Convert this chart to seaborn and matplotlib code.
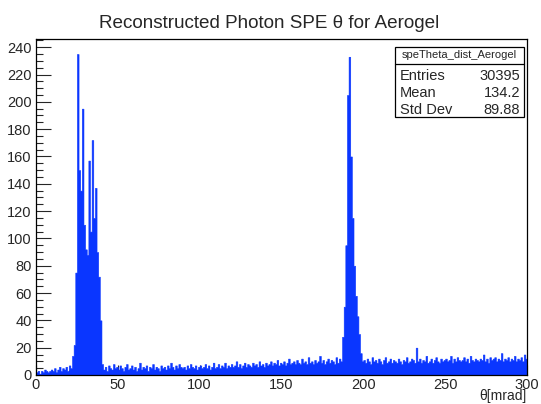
import numpy as np
import pandas as pd
import matplotlib
matplotlib.use("Agg")
import matplotlib.pyplot as plt
from matplotlib.patches import Rectangle
from matplotlib.ticker import MultipleLocator
import seaborn as sns

# 1 mrad bins from 0 to 300 (bin i covers [i, i+1))
bin_edges = list(range(0, 301))
counts = [
    2, 3, 1, 3, 2, 4, 3, 2, 3, 4,
    3, 5, 2, 4, 6, 3, 5, 4, 6, 3,
    7, 5, 14, 22, 75, 235, 150, 135, 195, 110,
    92, 88, 157, 105, 172, 115, 137, 90, 72, 40,
    8, 4, 6, 3, 7, 5, 4, 8, 5, 6,
    4, 7, 5, 3, 6, 8, 4, 5, 7, 4,
    6, 3, 5, 9, 4, 6, 5, 7, 3, 6,
    5, 8, 4, 6, 5, 3, 7, 5, 6, 4,
    7, 5, 9, 6, 4, 7, 5, 8, 6, 5,
    6, 4, 7, 5, 8, 6, 5, 7, 4, 6,
    7, 5, 6, 8, 5, 7, 4, 6, 9, 5,
    6, 8, 5, 7, 6, 9, 5, 7, 6, 8,
    6, 7, 10, 6, 8, 5, 7, 9, 6, 8,
    7, 6, 9, 7, 8, 6, 10, 7, 8, 6,
    9, 7, 8, 10, 7, 9, 8, 11, 7, 9,
    8, 10, 7, 9, 12, 8, 9, 10, 8, 11,
    9, 8, 12, 9, 10, 8, 13, 9, 10, 8,
    11, 9, 10, 14, 9, 11, 8, 10, 12, 9,
    11, 10, 8, 13, 9, 12, 10, 28, 50, 95,
    205, 233, 160, 115, 80, 58, 43, 30, 16, 10,
    11, 9, 12, 10, 8, 13, 10, 11, 9, 12,
    10, 8, 11, 13, 9, 10, 12, 9, 11, 10,
    9, 12, 10, 8, 11, 10, 13, 9, 10, 12,
    11, 9, 20, 10, 12, 9, 11, 10, 14, 9,
    10, 12, 9, 11, 13, 10, 9, 12, 10, 11,
    12, 10, 11, 14, 9, 12, 10, 13, 11, 10,
    11, 13, 10, 12, 9, 14, 11, 10, 12, 11,
    10, 12, 11, 15, 10, 12, 9, 13, 11, 12,
    13, 10, 12, 11, 16, 10, 12, 11, 13, 10,
    12, 11, 14, 10, 12, 11, 13, 10, 15, 12,
]
title = "Reconstructed Photon SPE \u03b8 for Aerogel"
xlabel = "\u03b8[mrad]"
stats_name = "speTheta_dist_Aerogel"
stats_labels = ["Entries", "Mean", "Std Dev"]
stats_values = ["30395", "134.2", "89.88"]

sns.set_style("ticks")
plt.rcParams["font.family"] = ["Liberation Sans", "DejaVu Sans"]

centers = [(bin_edges[i] + bin_edges[i + 1]) / 2 for i in range(len(counts))]
df = pd.DataFrame({"theta": centers, "n": counts})

W, H = 541, 404
fig = plt.figure(figsize=(W / 100, H / 100), dpi=100)
ax = fig.add_axes([36 / W, 1 - 375 / H, (527 - 36) / W, (375 - 39) / H])

sns.histplot(data=df, x="theta", weights="n", bins=bin_edges, element="step",
             fill=True, color="#0a36ff", alpha=1.0, linewidth=0.4,
             edgecolor="#0a36ff", ax=ax)

ax.set_xlim(0, 300)
ax.set_ylim(0, 246)
ax.set_xlabel("")
ax.set_ylabel("")
ax.xaxis.set_major_locator(MultipleLocator(50))
ax.xaxis.set_minor_locator(MultipleLocator(10))
ax.yaxis.set_major_locator(MultipleLocator(20))
ax.yaxis.set_minor_locator(MultipleLocator(5))
ax.tick_params(axis="x", which="major", direction="in", length=7.2, width=0.8,
               labelsize=10.5, pad=2, top=False)
ax.tick_params(axis="x", which="minor", direction="in", length=3.6, width=0.8, top=False)
ax.tick_params(axis="y", which="major", direction="in", length=10.6, width=0.8,
               labelsize=10.5, pad=3, right=False)
ax.tick_params(axis="y", which="minor", direction="in", length=5.3, width=0.8, right=False)
for s in ax.spines.values():
    s.set_visible(True)
    s.set_linewidth(0.9)
    s.set_color("black")

fig.text(269 / W, 1 - 23 / H, title, ha="center", va="center", fontsize=13.6)
fig.text(527 / W, 1 - 396 / H, xlabel, ha="right", va="center", fontsize=10)

# stats box
bx0, bx1, by0, by1, bsep = 395, 524, 47, 117, 63.5
fig.patches.append(Rectangle((bx0 / W, 1 - by1 / H), (bx1 - bx0) / W, (by1 - by0) / H,
                             transform=fig.transFigure, facecolor="white",
                             edgecolor="black", linewidth=0.9, zorder=5))
fig.add_artist(plt.Line2D([bx0 / W, bx1 / W], [1 - bsep / H, 1 - bsep / H],
                          transform=fig.transFigure, color="black", linewidth=0.9, zorder=6))
fig.text((bx0 + bx1) / 2 / W, 1 - (by0 + bsep) / 2 / H, stats_name,
         ha="center", va="center", fontsize=8, zorder=7)
row_y = [75.5, 93, 110]
for lab, val, yy in zip(stats_labels, stats_values, row_y):
    fig.text((bx0 + 5) / W, 1 - yy / H, lab, ha="left", va="center", fontsize=10.5, zorder=7)
    fig.text((bx1 - 4) / W, 1 - yy / H, val, ha="right", va="center", fontsize=10.5, zorder=7)

fig.savefig("out.png", dpi=100, facecolor="white")
